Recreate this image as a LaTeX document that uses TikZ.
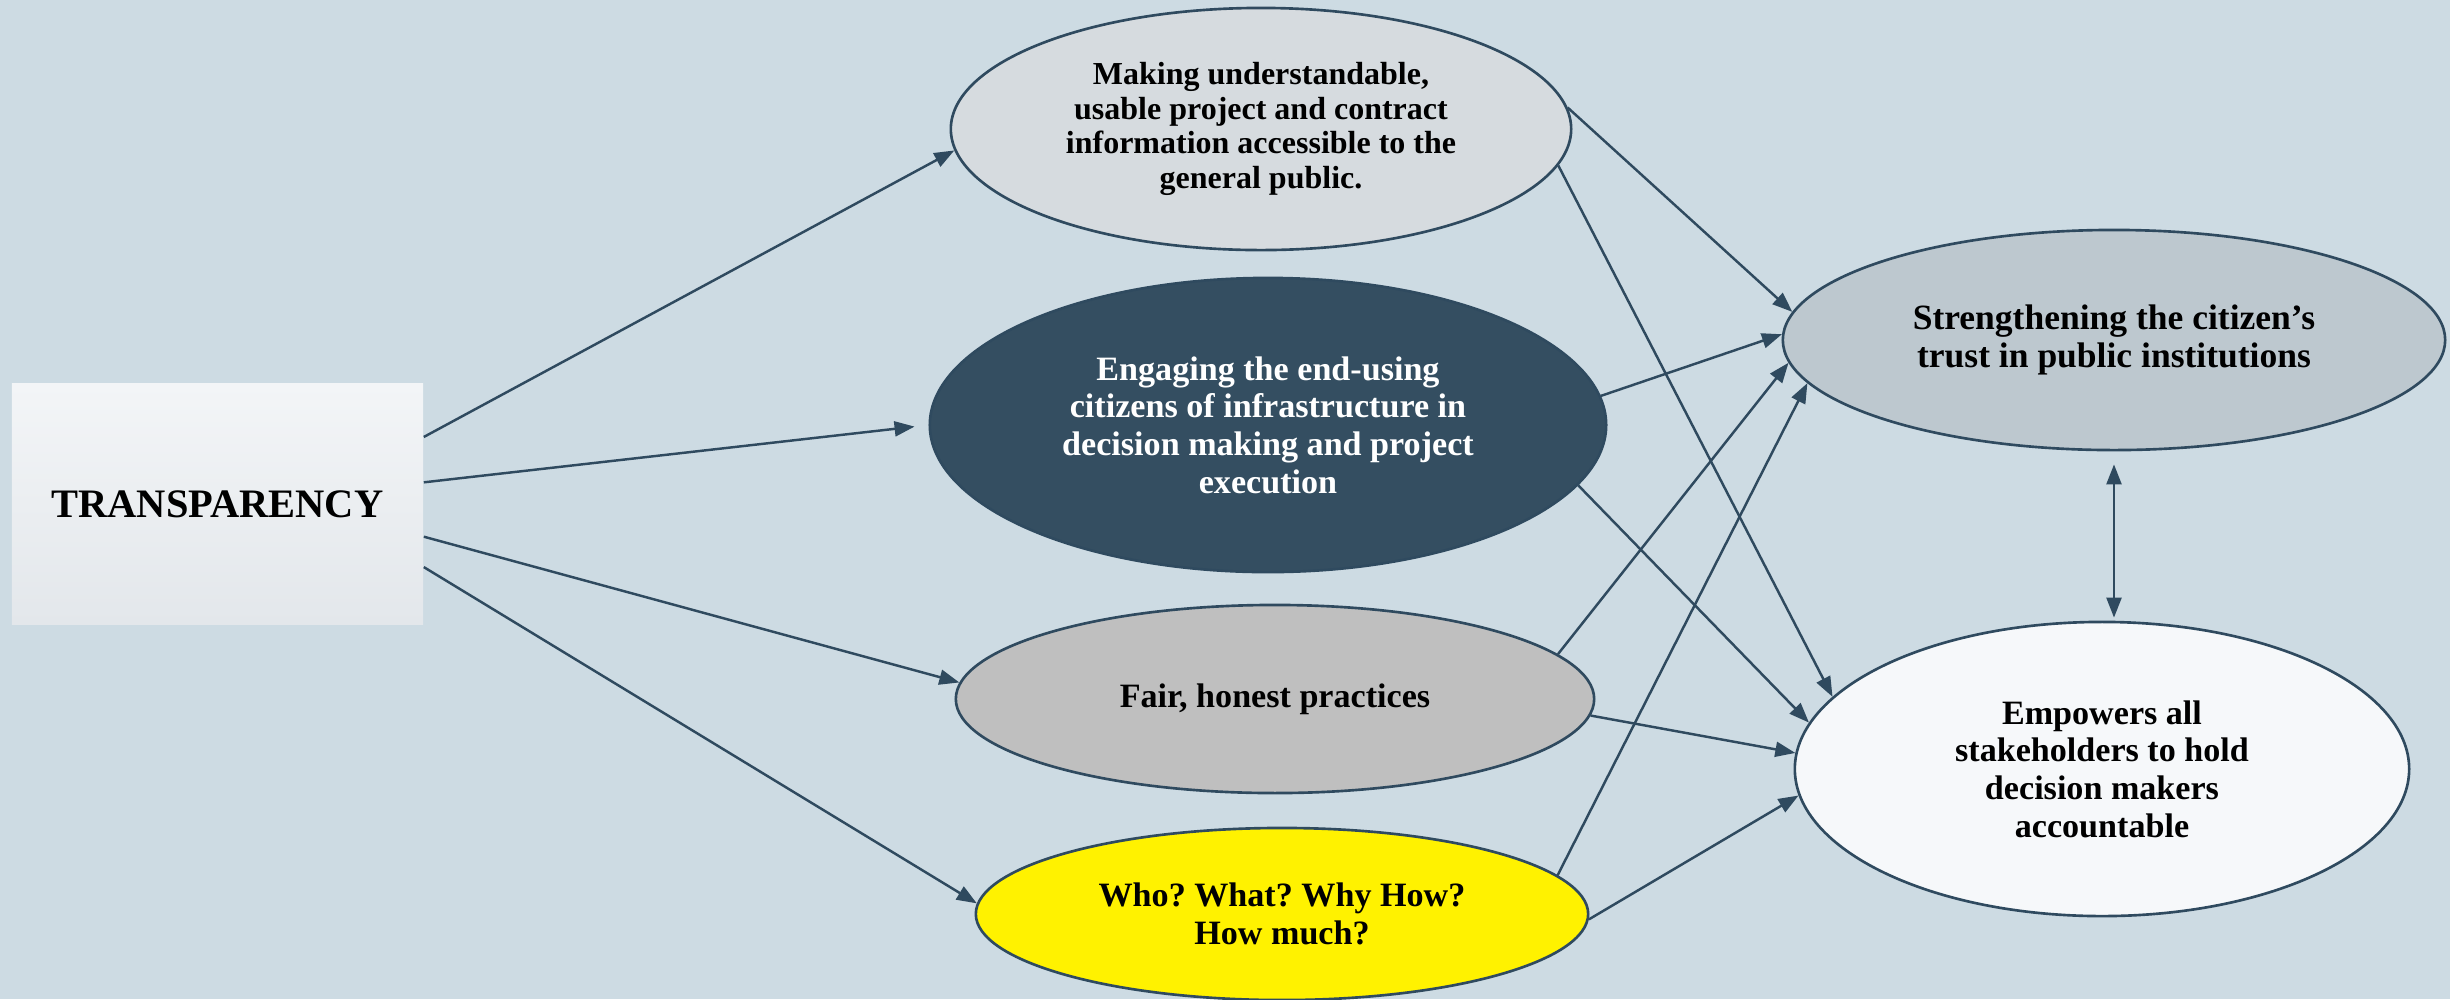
\documentclass[tikz,border=0pt]{standalone}
\usepackage{fontspec}
\setmainfont{Liberation Serif}
\usetikzlibrary{arrows.meta,shapes.geometric}
\frenchspacing

\definecolor{bgblue}{RGB}{205,219,227}
\definecolor{edgeblue}{RGB}{47,74,95}
\definecolor{boxtop}{RGB}{243,245,247}
\definecolor{boxbottom}{RGB}{227,231,235}
\definecolor{palegray}{RGB}{214,219,223}
\definecolor{slateblue}{RGB}{52,78,97}
\definecolor{midgray}{RGB}{191,191,191}
\definecolor{bluegray}{RGB}{189,200,207}
\definecolor{offwhite}{RGB}{246,248,250}

\tikzset{
    >={Triangle[length=0.2cm, width=0.15cm]},
    bubble/.style={ellipse, draw=edgeblue, line width=0.75pt, inner sep=0pt, align=center,
        font=\bfseries\fontsize{9.7pt}{10.7pt}\selectfont},
    link/.style={draw=edgeblue, line width=0.7pt, ->},
}

\begin{document}
\begin{tikzpicture}[x=0.01cm, y=-0.01cm]

    % Draw Background
    \fill[bgblue] (0,0) rectangle (2450,999);
    \useasboundingbox (0,0) rectangle (2450,999);

    % Draw Source
    \node[top color=boxtop, bottom color=boxbottom, minimum width=4.11cm, minimum height=2.4cm,
        inner sep=0pt, font=\bfseries\fontsize{11.5pt}{13pt}\selectfont] (transp) at (217.5,504) {TRANSPARENCY};

    % Draw Middle Ellipses
    \node[bubble, fill=palegray, minimum width=6.2cm, minimum height=2.42cm,
        font=\bfseries\fontsize{9.1pt}{9.8pt}\selectfont] (making) at (1261,129)
        {Making understandable,\\usable project and contract\\information accessible to the\\general public.};
    \node[bubble, fill=slateblue, text=white, minimum width=6.76cm, minimum height=2.94cm] (engage) at (1268,425)
        {Engaging the end-using\\citizens of infrastructure in\\decision making and project\\execution};
    \node[bubble, fill=midgray, minimum width=6.38cm, minimum height=1.88cm] (fair) at (1275,699)
        {Fair, honest practices};
    \node[bubble, fill=yellow, minimum width=6.12cm, minimum height=1.72cm] (who) at (1282,914)
        {Who? What? Why How?\\How much?};

    % Draw Outcomes
    \node[bubble, fill=bluegray, minimum width=6.62cm, minimum height=2.2cm,
        font=\bfseries\fontsize{10.1pt}{10.7pt}\selectfont] (trust) at (2114,340)
        {Strengthening the citizen’s\\trust in public institutions};
    \node[bubble, fill=offwhite, minimum width=6.14cm, minimum height=2.94cm] (account) at (2102,769)
        {Empowers all\\stakeholders to hold\\decision makers\\accountable};

    % Draw Arrows from Source
    \draw[link] (transp.18.8) -- (making.184.5);
    \draw[link, shorten >=0.14cm] (transp.6.1) -- (engage.180.7);
    \draw[link] (transp.-9.4) -- (fair.177.5);
    \draw[link] (transp.-17.8) -- (who.178.5);

    % Draw Arrows to Outcomes
    \draw[link] (making.4.2) -- (trust.175.3);
    \draw[link] (making.-7.9) -- (account.165.4);
    \draw[link] (engage.5.6) -- (trust.179);
    \draw[link] (engage.-11.2) -- (account.171.5);
    \draw[link] (fair.9) -- (trust.-176.7);
    \draw[link] (fair.-3.1) -- (account.177.6);
    \draw[link] (who.8.5) -- (trust.-172.7);
    \draw[link] (who.-1.2) -- (account.-175.1);
    \draw[link, <->, shorten <=0.13cm, shorten >=0.03cm] (trust.south) -- (trust.south |- account.north);
\end{tikzpicture}
\end{document}
